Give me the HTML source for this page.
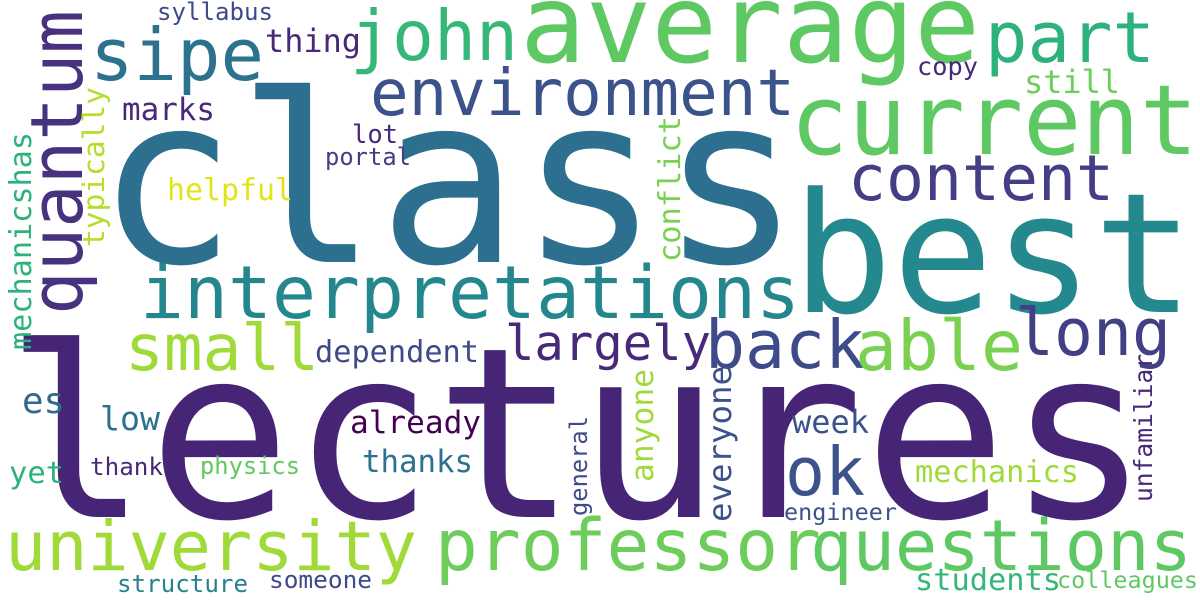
<!DOCTYPE html>
<html><head><meta charset="utf-8"><style>
html,body{margin:0;padding:0;background:#fff;}
svg{display:block;}
text{font-family:"DejaVu Sans Mono","Liberation Mono",monospace;}
</style></head><body>
<svg width="1200" height="600" viewBox="0 0 1200 600">
<rect width="1200" height="600" fill="#fff"/>
<g id="words"></g>
</svg>
<script>
const words = ["lectures","class","best","average","current","john","part","sipe","quantum","environment","content","interpretations","small","largely","back","able","long","ok","university","professor","questions","syllabus","thing","marks","lot","portal","helpful","typically","mechanicshas","conflict","dependent","es","low","already","week","yet","thank","physics","thanks","mechanics","engineer","structure","someone","students","colleagues","copy","still","anyone","everyone","general","unfamiliar"];
const xs = [5,96,792,520,790,350,985,90,82,370,848,140,125,505,705,855,1015,785,5,435,810,157,265,122,352,325,167,104,31,680,315,22,100,350,792,9,90,200,362,915,784,117,269,915,1057,917,1024,653,731,587,1152];
const ys = [517,262,312,62,154,60,62,80,315,115,200,318,370,360,368,370,355,495,570,570,570,20,52,120,143,165,200,247,350,262,362,413,430,433,433,483,475,474,472,482,520,592,588,590,588,75,93,482,522,516,502];
const lens = [1145,705,402,460,408,168,170,174,305,425,266,660,194,206,160,168,156,80,412,386,382,116,96,93,46,86,126,160,218,146,164,43,60,131,77,55,73,100,111,164,113,131,103,146,141,61,96,113,156,100,148];
const colors = ["#472576","#2d6f8e","#23898e","#5ec962","#5ec962","#35b779","#2db27d","#2c728e","#46327e","#3b528b","#433e85","#24878e","#a0da39","#482878","#3e4a89","#7ad151","#423f85","#3b528b","#a0da39","#6ccd5a","#5ec962","#3e4a89","#482878","#482878","#482878","#433e85","#e2e418","#b5de2b","#2db27d","#7ad151","#3e4a89","#31688e","#2c728e","#440154","#3b528b","#2db27d","#482878","#5ec962","#2c728e","#a0da39","#3b528b","#26828e","#3e4a89","#35b779","#5ec962","#482878","#6ccd5a","#a0da39","#3b528b","#3e4a89","#482878"];
const vertical = ["quantum","typically","mechanicshas","conflict","anyone","everyone","general","unfamiliar"];
const g = document.getElementById('words');
const NS = "http://www.w3.org/2000/svg";
for (let i = 0; i < words.length; i++) {
  const size = lens[i] / (words[i].length * 0.602);
  const t = document.createElementNS(NS, 'text');
  
  
  t.setAttribute('font-size', size.toFixed(1));
  t.setAttribute('fill', colors[i]);
  t.setAttribute('textLength', lens[i]);
  t.setAttribute('lengthAdjust', 'spacingAndGlyphs');
  if (vertical.includes(words[i])) {
    t.setAttribute('transform', 'translate(' + xs[i] + ',' + ys[i] + ') rotate(-90)');
    t.setAttribute('x', 0); t.setAttribute('y', 0);
  } else {
    t.setAttribute('x', xs[i]); t.setAttribute('y', ys[i]);
  }
  t.textContent = words[i];
  g.appendChild(t);
}
</script>
</body></html>
